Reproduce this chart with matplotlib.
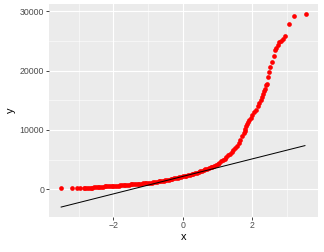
import matplotlib
matplotlib.use("Agg")
import matplotlib.pyplot as plt
from matplotlib.ticker import MultipleLocator

plt.rcParams['font.family'] = ['Liberation Sans', 'DejaVu Sans']

# theoretical quantiles and sample values
qx = [-3.50, -3.19, -3.05, -2.95, -2.85,
      -2.80, -2.75, -2.70, -2.65, -2.60, -2.55, -2.50, -2.45, -2.40, -2.35,
      -2.30, -2.25, -2.20, -2.15, -2.10, -2.05, -2.00, -1.95, -1.90, -1.85,
      -1.80, -1.75, -1.70, -1.65, -1.60, -1.55, -1.50, -1.45, -1.40, -1.35,
      -1.30, -1.25, -1.20, -1.15, -1.10, -1.05, -1.00, -0.95, -0.90, -0.85,
      -0.80, -0.75, -0.70, -0.65, -0.60, -0.55, -0.50, -0.45, -0.40, -0.35,
      -0.30, -0.25, -0.20, -0.15, -0.10, -0.05, 0.00, 0.05, 0.10, 0.15,
      0.20, 0.25, 0.30, 0.35, 0.40, 0.45, 0.50, 0.55, 0.60, 0.65,
      0.70, 0.75, 0.80, 0.85, 0.90, 0.95, 1.00, 1.05, 1.10, 1.15,
      1.20, 1.25, 1.30, 1.35, 1.40, 1.45, 1.50, 1.55, 1.60, 1.65,
      1.70, 1.75, 1.775, 1.80, 1.825, 1.85, 1.875, 1.90, 1.95, 2.00,
      2.05, 2.10, 2.15, 2.20, 2.25, 2.275, 2.30, 2.325, 2.35, 2.40,
      2.42, 2.46, 2.49, 2.52, 2.55, 2.61, 2.64, 2.67, 2.73, 2.76,
      2.81, 2.87, 2.95, 3.06, 3.20, 3.53]
qy = [200, 200, 210, 220, 230,
      240, 255, 270, 285, 300, 325, 350, 385, 420, 440,
      460, 475, 490, 510, 530, 550, 570, 590, 610, 635,
      660, 690, 720, 745, 770, 800, 830, 855, 880, 900,
      920, 940, 960, 980, 1000, 1025, 1050, 1090, 1130, 1180,
      1230, 1275, 1320, 1370, 1420, 1475, 1530, 1590, 1650, 1710,
      1770, 1830, 1890, 1955, 2020, 2090, 2160, 2225, 2290, 2365,
      2440, 2525, 2610, 2710, 2810, 2925, 3040, 3140, 3240, 3350,
      3460, 3580, 3700, 3820, 3950, 4120, 4300, 4500, 4700, 4920,
      5150, 5420, 5700, 5990, 6280, 6610, 6950, 7350, 7750, 8350,
      8950, 9550, 9850, 10200, 10600, 11000, 11300, 11600, 12100, 12550,
      12950, 13450, 14000, 14500, 15100, 15600, 16100, 16500, 16900, 17500,
      17700, 18850, 19700, 20700, 21500, 22500, 23550, 23800, 24400, 24800,
      25050, 25350, 25900, 27800, 29150, 29600]

# reference line (qq line)
line_x = [-3.50, 3.51]
line_y = [-2990, 7365]

fig = plt.figure(figsize=(4.5, 3.5), dpi=72)
ax = fig.add_axes([0.151, 0.140, 0.830, 0.844])
ax.set_facecolor('#EBEBEB')

ax.scatter(qx, qy, s=22, color='red', linewidths=0, zorder=3)
ax.plot(line_x, line_y, color='black', lw=1.0, zorder=4)

# ggplot style 5% expansion
xs = qx + line_x
ys = qy + line_y
dx = (max(xs) - min(xs)) * 0.05
dy = (max(ys) - min(ys)) * 0.05
ax.set_xlim(min(xs) - dx, max(xs) + dx)
ax.set_ylim(min(ys) - dy, max(ys) + dy)

ax.xaxis.set_major_locator(MultipleLocator(2))
ax.xaxis.set_minor_locator(MultipleLocator(1))
ax.yaxis.set_major_locator(MultipleLocator(10000))
ax.yaxis.set_minor_locator(MultipleLocator(5000))
ax.grid(which='major', color='white', lw=1.1, zorder=0)
ax.grid(which='minor', color='white', lw=0.55, zorder=0)
ax.set_axisbelow(True)

for s in ax.spines.values():
    s.set_visible(False)
ax.tick_params(which='major', length=2.75, width=0.9, color='#333333',
               labelcolor='#4D4D4D', labelsize=8.8, pad=2)
ax.tick_params(which='minor', length=0)

ax.set_xlabel('x', fontsize=11, labelpad=2)
ax.set_ylabel('y', fontsize=11, rotation=90, labelpad=4)

fig.savefig('out.png', dpi=72)
